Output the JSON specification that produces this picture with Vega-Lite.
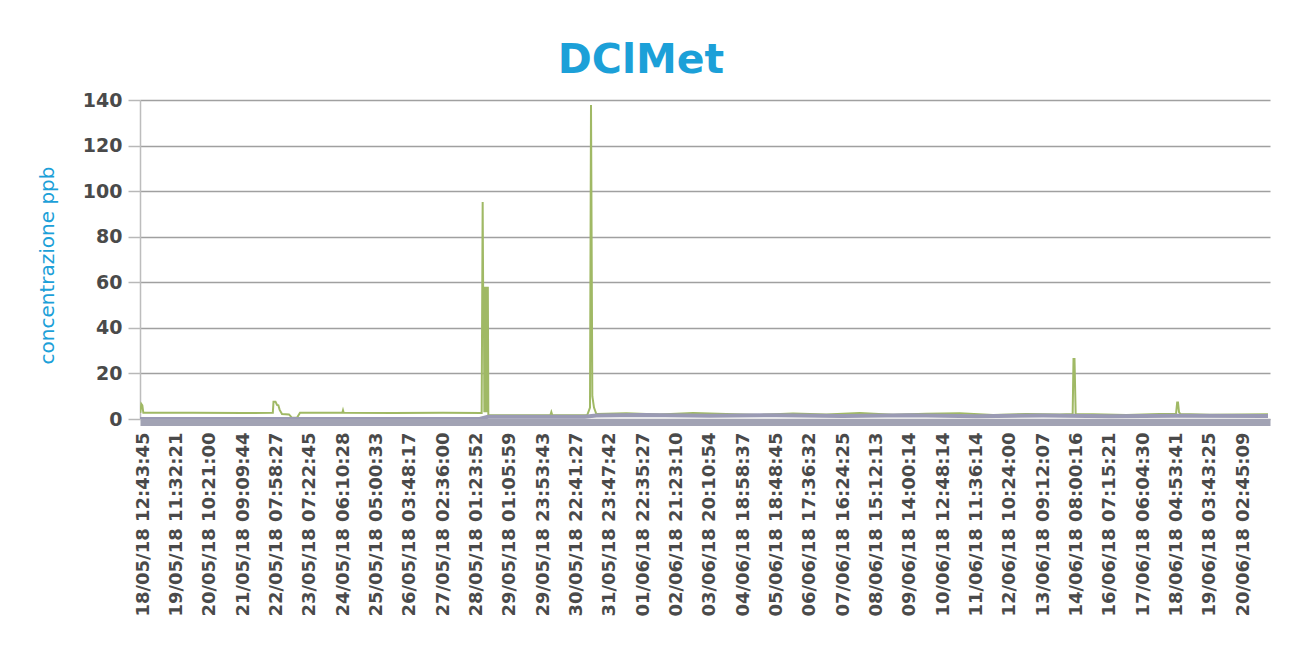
{
  "$schema": "https://vega.github.io/schema/vega-lite/v6.json",
  "width": 1130,
  "height": 319,
  "autosize": {"type": "none"},
  "padding": {"left": 140, "top": 100, "right": 27, "bottom": 232},
  "background": "white",
  "config": {
    "view": {"stroke": null},
    "font": "DejaVu Sans"
  },
  "title": {
    "text": "DClMet",
    "color": "#1ca0d8",
    "font": "DejaVu Sans",
    "fontSize": 41,
    "fontWeight": "bold",
    "anchor": "middle",
    "frame": "group",
    "baseline": "alphabetic",
    "dx": -64,
    "offset": -23
  },
  "datasets": {
    "serie": [
      {"serie": "DClMet", "n": -1.6, "v": 2.7},
      {"serie": "DClMet", "n": -1.0, "v": 6.6},
      {"serie": "DClMet", "n": -0.4, "v": 6.0},
      {"serie": "DClMet", "n": 0.2, "v": 2.7},
      {"serie": "DClMet", "n": 30, "v": 2.7},
      {"serie": "DClMet", "n": 60, "v": 2.6},
      {"serie": "DClMet", "n": 77.9, "v": 2.7},
      {"serie": "DClMet", "n": 78.3, "v": 7.6},
      {"serie": "DClMet", "n": 79.5, "v": 7.6},
      {"serie": "DClMet", "n": 80.4, "v": 6.2},
      {"serie": "DClMet", "n": 81.2, "v": 6.0},
      {"serie": "DClMet", "n": 82.0, "v": 4.0},
      {"serie": "DClMet", "n": 83.4, "v": 2.2},
      {"serie": "DClMet", "n": 87.6, "v": 2.0},
      {"serie": "DClMet", "n": 89.4, "v": 0.5},
      {"serie": "DClMet", "n": 92.4, "v": 0.5},
      {"serie": "DClMet", "n": 94.2, "v": 2.7},
      {"serie": "DClMet", "n": 119.6, "v": 2.7},
      {"serie": "DClMet", "n": 120.0, "v": 3.8},
      {"serie": "DClMet", "n": 120.4, "v": 2.7},
      {"serie": "DClMet", "n": 150, "v": 2.6},
      {"serie": "DClMet", "n": 180, "v": 2.7},
      {"serie": "DClMet", "n": 203.2, "v": 2.6},
      {"serie": "DClMet", "n": 203.8, "v": 95.2},
      {"serie": "DClMet", "n": 204.2, "v": 40},
      {"serie": "DClMet", "n": 204.5, "v": 58},
      {"serie": "DClMet", "n": 204.8, "v": 3},
      {"serie": "DClMet", "n": 205.1, "v": 58},
      {"serie": "DClMet", "n": 205.4, "v": 3},
      {"serie": "DClMet", "n": 205.7, "v": 58},
      {"serie": "DClMet", "n": 206.0, "v": 3},
      {"serie": "DClMet", "n": 206.3, "v": 58},
      {"serie": "DClMet", "n": 206.6, "v": 3},
      {"serie": "DClMet", "n": 206.9, "v": 58},
      {"serie": "DClMet", "n": 207.2, "v": 2},
      {"serie": "DClMet", "n": 207.6, "v": 1.6},
      {"serie": "DClMet", "n": 225, "v": 1.6},
      {"serie": "DClMet", "n": 244.4, "v": 1.6},
      {"serie": "DClMet", "n": 245.0, "v": 3.0},
      {"serie": "DClMet", "n": 245.6, "v": 1.6},
      {"serie": "DClMet", "n": 266.5, "v": 1.6},
      {"serie": "DClMet", "n": 268.2, "v": 5},
      {"serie": "DClMet", "n": 268.8, "v": 137.8},
      {"serie": "DClMet", "n": 269.6, "v": 10},
      {"serie": "DClMet", "n": 270.6, "v": 5},
      {"serie": "DClMet", "n": 272, "v": 2.2},
      {"serie": "DClMet", "n": 290, "v": 2.5},
      {"serie": "DClMet", "n": 310, "v": 2.0},
      {"serie": "DClMet", "n": 330, "v": 2.6},
      {"serie": "DClMet", "n": 350, "v": 2.2},
      {"serie": "DClMet", "n": 370, "v": 1.8},
      {"serie": "DClMet", "n": 390, "v": 2.4},
      {"serie": "DClMet", "n": 410, "v": 2.0},
      {"serie": "DClMet", "n": 430, "v": 2.6},
      {"serie": "DClMet", "n": 450, "v": 1.9},
      {"serie": "DClMet", "n": 470, "v": 2.3},
      {"serie": "DClMet", "n": 490, "v": 2.5},
      {"serie": "DClMet", "n": 510, "v": 1.8},
      {"serie": "DClMet", "n": 530, "v": 2.2},
      {"serie": "DClMet", "n": 550, "v": 2.0},
      {"serie": "DClMet", "n": 557.8, "v": 2.2},
      {"serie": "DClMet", "n": 558.3, "v": 26.3},
      {"serie": "DClMet", "n": 558.9, "v": 26.3},
      {"serie": "DClMet", "n": 559.6, "v": 2.2},
      {"serie": "DClMet", "n": 570, "v": 2.1},
      {"serie": "DClMet", "n": 590, "v": 1.8},
      {"serie": "DClMet", "n": 610, "v": 2.2},
      {"serie": "DClMet", "n": 619.8, "v": 2.2},
      {"serie": "DClMet", "n": 620.5, "v": 7.2},
      {"serie": "DClMet", "n": 621.0, "v": 7.2},
      {"serie": "DClMet", "n": 621.6, "v": 3.0},
      {"serie": "DClMet", "n": 622.4, "v": 2.2},
      {"serie": "DClMet", "n": 640, "v": 1.9},
      {"serie": "DClMet", "n": 660, "v": 2.0},
      {"serie": "DClMet", "n": 675, "v": 2.1},
      {"serie": "fondo", "n": -1.8, "v": 0},
      {"serie": "fondo", "n": 202, "v": 0},
      {"serie": "fondo", "n": 207, "v": 1.0},
      {"serie": "fondo", "n": 265, "v": 1.0},
      {"serie": "fondo", "n": 272, "v": 1.5},
      {"serie": "fondo", "n": 300, "v": 1.8},
      {"serie": "fondo", "n": 340, "v": 1.4},
      {"serie": "fondo", "n": 380, "v": 1.7},
      {"serie": "fondo", "n": 420, "v": 1.3},
      {"serie": "fondo", "n": 460, "v": 1.6},
      {"serie": "fondo", "n": 500, "v": 1.2},
      {"serie": "fondo", "n": 540, "v": 1.5},
      {"serie": "fondo", "n": 580, "v": 1.2},
      {"serie": "fondo", "n": 620, "v": 1.4},
      {"serie": "fondo", "n": 675, "v": 1.3}
    ]
  },
  "data": {"name": "serie"},
  "mark": {"type": "line", "clip": true, "strokeJoin": "miter"},
  "encoding": {
    "x": {
      "field": "n",
      "type": "quantitative",
      "scale": {"domain": [-1.8, 676.2], "nice": false, "zero": false},
      "axis": {
        "title": null,
        "grid": false,
        "values": [0, 20, 40, 60, 80, 100, 120, 140, 160, 180, 200, 220, 240, 260, 280, 300, 320, 340, 360, 380, 400, 420, 440, 460, 480, 500, 520, 540, 560, 580, 600, 620, 640, 660],
        "labelExpr": "['18/05/18 12:43:45','19/05/18 11:32:21','20/05/18 10:21:00','21/05/18 09:09:44','22/05/18 07:58:27','23/05/18 07:22:45','24/05/18 06:10:28','25/05/18 05:00:33','26/05/18 03:48:17','27/05/18 02:36:00','28/05/18 01:23:52','29/05/18 01:05:59','29/05/18 23:53:43','30/05/18 22:41:27','31/05/18 23:47:42','01/06/18 22:35:27','02/06/18 21:23:10','03/06/18 20:10:54','04/06/18 18:58:37','05/06/18 18:48:45','06/06/18 17:36:32','07/06/18 16:24:25','08/06/18 15:12:13','09/06/18 14:00:14','10/06/18 12:48:14','11/06/18 11:36:14','12/06/18 10:24:00','13/06/18 09:12:07','14/06/18 08:00:16','16/06/18 07:15:21','17/06/18 06:04:30','18/06/18 04:53:41','19/06/18 03:43:25','20/06/18 02:45:09'][round(datum.value / 20)]",
        "labelAngle": -90,
        "labelAlign": "right",
        "labelBaseline": "middle",
        "labelFont": "DejaVu Sans",
        "labelFontSize": 18,
        "labelFontWeight": "bold",
        "labelColor": "#4a4a4a",
        "labelPadding": 10,
        "labelLimit": 0,
        "labelOverlap": false,
        "labelFlush": false,
        "labelBound": false,
        "ticks": false,
        "tickSize": 0,
        "domain": true,
        "domainColor": "#a2a3b4",
        "domainWidth": 7,
        "offset": 3
      }
    },
    "y": {
      "field": "v",
      "type": "quantitative",
      "scale": {"domain": [0, 140], "nice": false},
      "axis": {
        "title": "concentrazione ppb",
        "titleColor": "#1ca0d8",
        "titleFont": "DejaVu Sans",
        "titleFontSize": 20,
        "titleFontWeight": "normal",
        "titleAngle": -90,
        "titleAlign": "center",
        "titleBaseline": "bottom",
        "titleX": -83,
        "titleY": 165,
        "values": [0, 20, 40, 60, 80, 100, 120, 140],
        "labelFont": "DejaVu Sans",
        "labelFontSize": 19,
        "labelFontWeight": "bold",
        "labelColor": "#4a4a4a",
        "labelPadding": 6,
        "tickSize": 12,
        "tickColor": "#b8b8b8",
        "tickWidth": 1.5,
        "grid": true,
        "gridColor": "#a0a0a0",
        "gridWidth": 1.5,
        "domainColor": "#bdbdbd",
        "domainWidth": 1.5
      }
    },
    "color": {
      "field": "serie",
      "type": "nominal",
      "scale": {"domain": ["DClMet", "fondo"], "range": ["#a0b965", "#9a9ab4"]},
      "legend": null
    },
    "strokeWidth": {
      "field": "serie",
      "type": "nominal",
      "scale": {"domain": ["DClMet", "fondo"], "range": [2, 4]},
      "legend": null
    },
    "order": {"field": "serie", "type": "nominal"}
  }
}
